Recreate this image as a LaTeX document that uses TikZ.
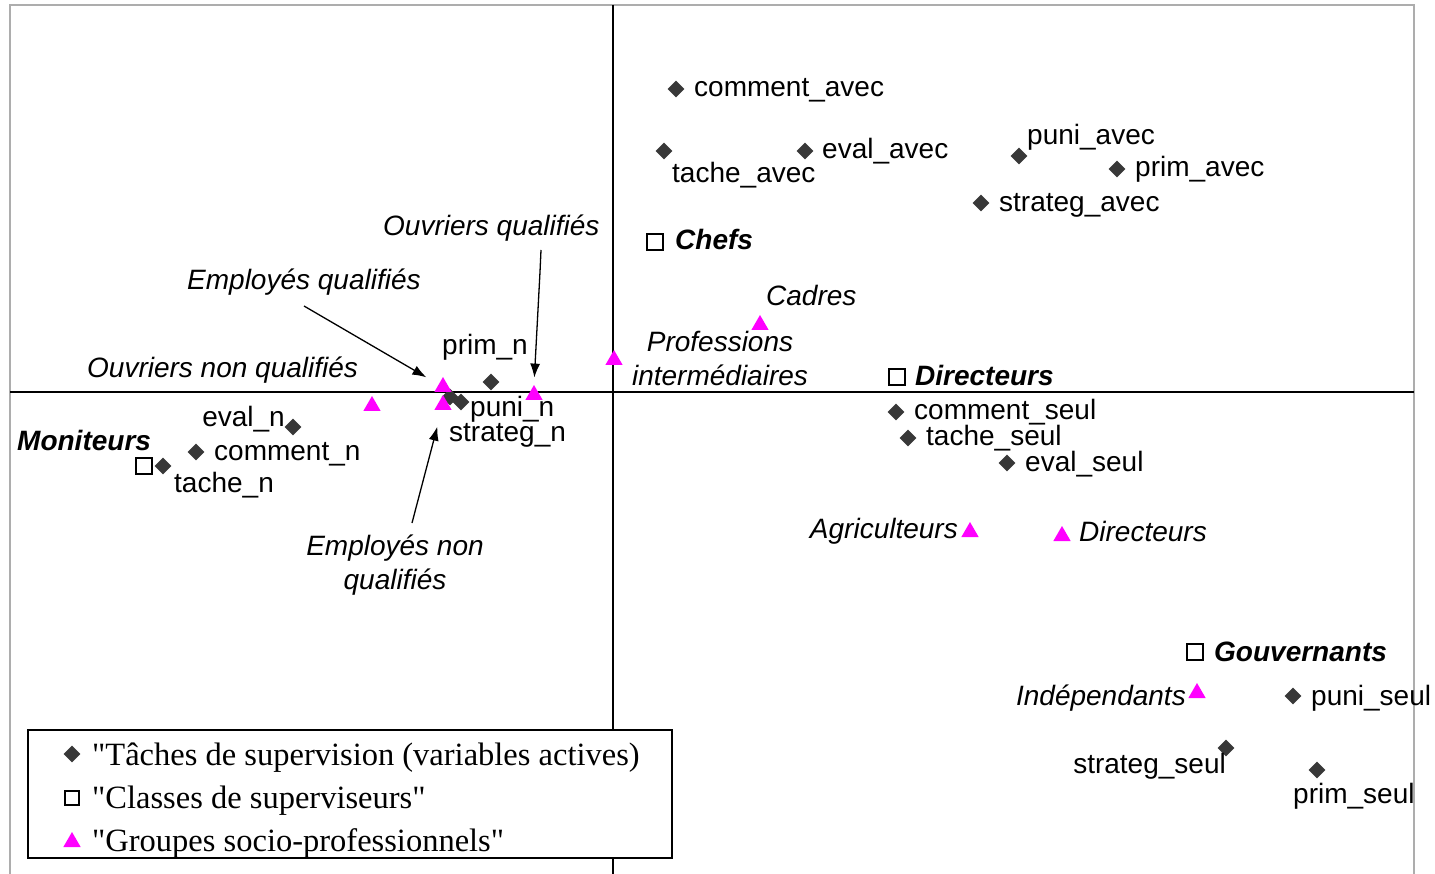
\documentclass[tikz,border=0pt]{standalone}
\usepackage{fontspec}
\setmainfont{Liberation Sans}
\newfontfamily\legfont{Liberation Serif}
\usetikzlibrary{shapes.geometric}
\usetikzlibrary{arrows.meta}
\definecolor{rose}{RGB}{255,0,255}

\tikzset{
  cadre/.style={draw=black!32, line width=2pt},
  axe/.style={draw=black, line width=1.3pt},
  tache/.style={diamond, fill=black!78, inner sep=0pt, minimum size=17pt},
  classe/.style={rectangle, draw=black, line width=1.2pt, fill=white, inner sep=0pt, minimum size=16pt},
  groupe/.style={regular polygon, regular polygon sides=3, fill=rose, inner sep=0pt, minimum size=20pt},
  lbl/.style={inner sep=0pt, font=\fontsize{28}{34}\selectfont},
  lblit/.style={inner sep=0pt, font=\fontsize{28}{34}\selectfont\itshape},
  lblbf/.style={inner sep=0pt, font=\fontsize{28}{34}\selectfont\bfseries\itshape},
  leg/.style={inner sep=0pt, anchor=base west, font=\legfont\fontsize{32.5}{38}\selectfont},
}

\begin{document}
\begin{tikzpicture}[x=1pt,y=-1pt]
    \useasboundingbox (0,0) rectangle (1435,874);
    \begin{scope}[>={Latex[length=14pt,width=10pt]}] %filled arrow tips

      % defines
      \pgfmathsetmacro\AxeX{613} % x of vertical axis
      \pgfmathsetmacro\AxeY{392} % y of horizontal axis

      % frame and axes
      \draw[cadre] (10,874) -- (10,5) -- (1414,5) -- (1414,874);
      \draw[axe] (\AxeX,5) -- (\AxeX,874);
      \draw[axe] (10,\AxeY) -- (1414,\AxeY);

      % taches de supervision, quadrant top right
      \node (cav) at (676,89) [tache] {};
      \node (cavl) at (694,97) [lbl, anchor=base west] {comment\_avec};
      \node (tav) at (664,151) [tache] {};
      \node (tavl) at (672,183) [lbl, anchor=base west] {tache\_avec};
      \node (eav) at (805,151) [tache] {};
      \node (eavl) at (822,159) [lbl, anchor=base west] {eval\_avec};
      \node (pav) at (1019,156) [tache] {};
      \node (pavl) at (1027,145) [lbl, anchor=base west] {puni\_avec};
      \node (prav) at (1117,169) [tache] {};
      \node (pravl) at (1135,177) [lbl, anchor=base west] {prim\_avec};
      \node (sav) at (981,203) [tache] {};
      \node (savl) at (999,212) [lbl, anchor=base west] {strateg\_avec};

      % taches de supervision, right side
      \node (cseul) at (896,412) [tache] {};
      \node (cseull) at (914,420) [lbl, anchor=base west] {comment\_seul};
      \node (tseul) at (908,438) [tache] {};
      \node (tseull) at (926,445) [lbl, anchor=base west] {tache\_seul};
      \node (eseul) at (1007,463) [tache] {};
      \node (eseull) at (1025,471) [lbl, anchor=base west] {eval\_seul};
      \node (pseul) at (1293,696) [tache] {};
      \node (pseull) at (1311,705) [lbl, anchor=base west] {puni\_seul};
      \node (sseul) at (1226,748) [tache] {};
      \node (sseull) at (1226,773) [lbl, anchor=base east] {strateg\_seul};
      \node (prseul) at (1317,770) [tache] {};
      \node (prseull) at (1293,803) [lbl, anchor=base west] {prim\_seul};

      % taches de supervision, left side
      \node (prn) at (491,382) [tache] {};
      \node (prnl) at (442,355) [lbl, anchor=base west] {prim\_n};
      \node (sn) at (450,397) [tache] {};
      \node (snl) at (449,442) [lbl, anchor=base west] {strateg\_n};
      \node (pn) at (461,402) [tache] {};
      \node (pnl) at (470,417) [lbl, anchor=base west] {puni\_n};
      \node (en) at (293,427) [tache] {};
      \node (enl) at (285,426) [lbl, anchor=base east] {eval\_n};
      \node (cn) at (196,452) [tache] {};
      \node (cnl) at (214,460) [lbl, anchor=base west] {comment\_n};
      \node (tn) at (163,466) [tache] {};
      \node (tnl) at (174,492) [lbl, anchor=base west] {tache\_n};

      % classes de superviseurs
      \node (chefs) at (655,242) [classe] {};
      \node (chefsl) at (675,250) [lblbf, anchor=base west] {Chefs};
      \node (dir) at (897,377) [classe] {};
      \node (dirl) at (915,385) [lblbf, anchor=base west] {Directeurs};
      \node (gouv) at (1195,652) [classe] {};
      \node (gouvl) at (1214,661) [lblbf, anchor=base west] {Gouvernants};
      \node (mon) at (144,466) [classe] {};
      \node (monl) at (17,450) [lblbf, anchor=base west] {Moniteurs};

      % groupes socio-professionnels
      \node (cadres) at (760,325) [groupe] {};
      \node (cadresl) at (766,306) [lblit, anchor=base west] {Cadres};
      \node (pi) at (614,360) [groupe] {};
      \node (pil) at (720,386) [lblit, anchor=base, align=center] {Professions\\intermédiaires};
      \node (agri) at (970,532) [groupe] {};
      \node (agril) at (958,538) [lblit, anchor=base east] {Agriculteurs};
      \node (dirg) at (1062,536) [groupe] {};
      \node (dirgl) at (1079,541) [lblit, anchor=base west] {Directeurs};
      \node (indep) at (1197,693) [groupe] {};
      \node (indepl) at (1186,705) [lblit, anchor=base east] {Indépendants};
      \node (oq) at (534,395) [groupe] {};
      \node (oql) at (383,236) [lblit, anchor=base west] {Ouvriers qualifiés};
      \node (eq) at (443,387) [groupe] {};
      \node (eql) at (187,290) [lblit, anchor=base west] {Employés qualifiés};
      \node (enq) at (443,405) [groupe] {};
      \node (enql) at (395,589) [lblit, anchor=base, align=center] {Employés non\\qualifiés};
      \node (onq) at (372,406) [groupe] {};
      \node (onql) at (87,378) [lblit, anchor=base west] {Ouvriers non qualifiés};

      % arrows from labels to triangles
      \coordinate (oqstart) at (541,250);
      \coordinate (oqbend) at (540,272);
      \draw[->,line width=1.3pt,shorten >=7pt] (oqstart) -- (oqbend) -- (oq.north);
      \coordinate (eqstart) at (304,306);
      \draw[->,line width=1.3pt,shorten >=14pt] (eqstart) -- (eq);
      \coordinate (enqstart) at (412,523);
      \draw[->,line width=1.3pt,shorten >=17pt] (enqstart) -- (enq);

      % legend
      \node (legende) at (350,794) [draw, line width=1.3pt, fill=white, minimum width=644pt, minimum height=128pt, inner sep=0pt] {};
      \node (legt) at (72,754) [tache] {};
      \node (legtl) at (92,765) [leg] {"Tâches de supervision (variables actives)};
      \node (legc) at (72,798) [classe, minimum size=14pt] {};
      \node (legcl) at (92,808) [leg] {"Classes de superviseurs"};
      \node (legg) at (72,842) [groupe] {};
      \node (leggl) at (92,851) [leg] {"Groupes socio-professionnels"};

    \end{scope}
\end{tikzpicture}
\end{document}
